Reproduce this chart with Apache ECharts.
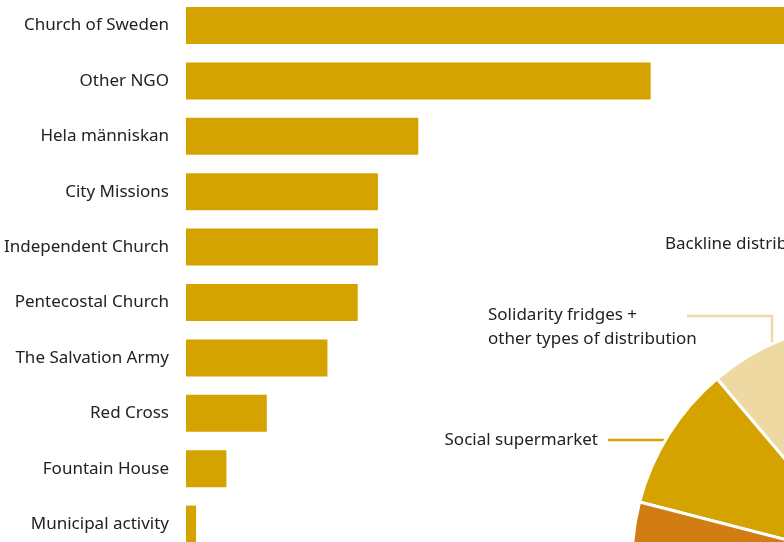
<!DOCTYPE html>
<html>
<head>
<meta charset="utf-8">
<script src="https://cdn.jsdelivr.net/npm/echarts@6/dist/echarts.min.js"></script>
<style>
html,body{margin:0;padding:0;background:#fff;}
#chart{width:784px;height:542px;}
</style>
</head>
<body>
<div id="chart"></div>
<script>
// Bar chart data
const categories = ["Church of Sweden","Other NGO","Hela människan","City Missions","Independent Church","Pentecostal Church","The Salvation Army","Red Cross","Fountain House","Municipal activity"];
const barValues = [72, 46, 23, 19, 19, 17, 14, 8, 4, 1];

// Pie chart data (distribution types, share in %)
const pieNames = ["Solidarity fridges +\nother types of distribution","Social supermarket","Other distribution","Backline distribution"];
const pieValues = [6.9, 9.8, 12.5, 70.8];
const pieColors = ["#EFD9A3","#D5A300","#D17D14","#E3B64A"];

const FONT = "Noto Sans";
const chart = echarts.init(document.getElementById('chart'), null, {renderer:'canvas'});

const labelSpec = {
  0: {x:488, y:303, align:'left', verticalAlign:'top', line:[[772,352],[772,316],[687,316]]},
  1: {x:598, y:440, align:'right', verticalAlign:'middle', line:[[668,440],[640,440],[608,440]]},
  3: {x:665, y:244, align:'left', verticalAlign:'middle', line:[[900,330],[900,244],[860,244]]}
};

chart.setOption({
  animation:false,
  backgroundColor:'#fff',
  textStyle:{fontFamily:FONT},
  grid:{left:186, right:0, top:-2.2, height:554, containLabel:false, outerBoundsMode:'none'},
  xAxis:{type:'value', min:0, max:59.2, show:false},
  yAxis:{type:'category', data:categories, inverse:true,
    axisLine:{show:false}, axisTick:{show:false},
    axisLabel:{color:'#222', fontSize:17, margin:17, fontFamily:FONT}},
  series:[
    {type:'bar', data:barValues, barWidth:37, itemStyle:{color:'#D5A300'}, clip:true, silent:true},
    {type:'pie', center:[872,562], radius:240, clockwise:false, startAngle:105.4,
      data: pieNames.map((n,i)=>({name:n, value:pieValues[i], itemStyle:{color:pieColors[i]},
        label:{show: i!==2, width:260, overflow:'none'},
        labelLine:{show: i!==2, lineStyle:{color: pieColors[i], width:2.5}}})),
      itemStyle:{borderColor:'#fff', borderWidth:3},
      label:{color:'#222', fontSize:17, lineHeight:24, fontFamily:FONT, formatter:'{b}'},
      labelLine:{show:true, length:10, length2:20},
      labelLayout:function(p){
        const s = labelSpec[p.dataIndex];
        if(!s) return {};
        return {x:s.x, y:s.y, align:s.align, verticalAlign:s.verticalAlign, labelLinePoints:s.line};
      },
      silent:true
    }
  ]
});
</script>
</body>
</html>
